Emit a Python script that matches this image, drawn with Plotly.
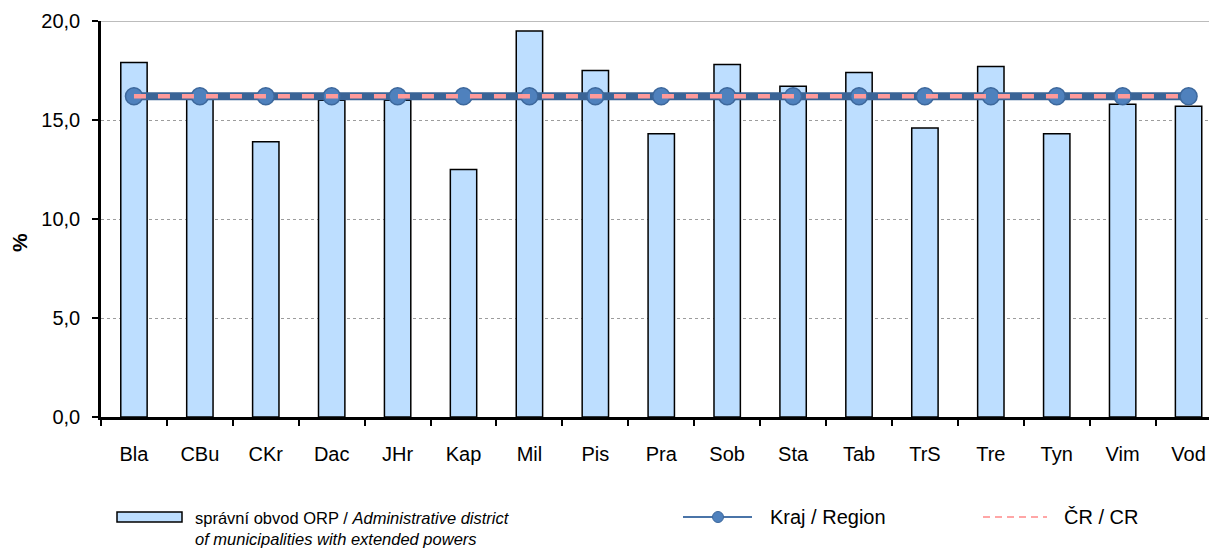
import plotly.graph_objects as go

categories = ["Bla", "CBu", "CKr", "Dac", "JHr", "Kap", "Mil", "Pis", "Pra",
              "Sob", "Sta", "Tab", "TrS", "Tre", "Tyn", "Vim", "Vod"]
orp_values = [17.9, 16.1, 13.9, 16.0, 16.0, 12.5, 19.5, 17.5, 14.3,
              17.8, 16.7, 17.4, 14.6, 17.7, 14.3, 15.8, 15.7]
kraj_values = [16.2] * 17
cr_values = [16.2] * 17

W, H = 1209, 550
L, R, T, B = 101, 1209, 21, 417


def px(x):
    return (x - L) / (R - L)


def py(y):
    return (B - y) / (B - T)


fig = go.Figure()
fig.add_trace(go.Bar(
    x=categories, y=orp_values, width=0.4,
    marker=dict(color="#BDDEFF", line=dict(color="black", width=1.5)),
    name="správní obvod ORP", showlegend=False,
))
fig.add_trace(go.Scatter(
    x=categories, y=kraj_values, mode="lines+markers",
    line=dict(color="#3A6496", width=8),
    marker=dict(size=17, color="#4F81BD", line=dict(color="#3D689C", width=1.5)),
    name="Kraj / Region", showlegend=False,
))
fig.add_trace(go.Scatter(
    x=categories, y=cr_values, mode="lines",
    line=dict(color="#FF9A9A", width=4.5, dash="12px,12px"),
    name="ČR / CR", showlegend=False,
))

font = "Liberation Sans, Arial, sans-serif"
shapes = [
    dict(type="line", xref="paper", yref="y", x0=0, x1=1, y0=20, y1=20,
         line=dict(color="#A6A6A6", width=1.5), layer="below"),
    dict(type="rect", xref="paper", yref="paper", x0=px(117), x1=px(182),
         y0=py(522), y1=py(512), fillcolor="#BDDEFF",
         line=dict(color="black", width=1.5)),
    dict(type="line", xref="paper", yref="paper", x0=px(683), x1=px(752),
         y0=py(517), y1=py(517), line=dict(color="#4A74A8", width=2)),
    dict(type="circle", xref="paper", yref="paper", x0=px(712.5), x1=px(723.5),
         y0=py(522.5), y1=py(511.5), fillcolor="#4F81BD",
         line=dict(color="#3D689C", width=1)),
    dict(type="line", xref="paper", yref="paper", x0=px(983), x1=px(1047),
         y0=py(517), y1=py(517), line=dict(color="#FFA6A6", width=2, dash="7px,5px")),
]

annotations = [
    dict(text="správní obvod ORP / <i>Administrative district</i>", xref="paper", yref="paper",
         x=px(193), y=py(518), xanchor="left", yanchor="middle", showarrow=False,
         font=dict(family=font, size=16.5, color="black")),
    dict(text="<i>of municipalities with extended powers</i>", xref="paper", yref="paper",
         x=px(193), y=py(539), xanchor="left", yanchor="middle", showarrow=False,
         font=dict(family=font, size=16.5, color="black")),
    dict(text="Kraj / Region", xref="paper", yref="paper",
         x=px(768), y=py(517), xanchor="left", yanchor="middle", showarrow=False,
         font=dict(family=font, size=20, color="black")),
    dict(text="ČR / CR", xref="paper", yref="paper",
         x=px(1062), y=py(517), xanchor="left", yanchor="middle", showarrow=False,
         font=dict(family=font, size=20, color="black")),
    dict(text="<b>%</b>", xref="paper", yref="paper", textangle=-90,
         x=px(20), y=py(243), xanchor="center", yanchor="middle", showarrow=False,
         font=dict(family=font, size=21, color="black")),
]

fig.update_layout(
    width=W, height=H,
    margin=dict(l=L, r=W - R, t=T, b=H - B, pad=0),
    paper_bgcolor="white", plot_bgcolor="white",
    separators=", ",
    font=dict(family=font, size=20, color="black"),
    bargap=0.6,
    shapes=shapes, annotations=annotations,
    showlegend=False,
)
fig.update_xaxes(
    type="category", range=[-0.5, 16.31],
    showline=True, linecolor="black", linewidth=2.5,
    ticks="outside", tickson="boundaries", ticklen=6, tickwidth=1.5, tickcolor="black",
    ticklabelstandoff=17, showgrid=False,
    tickfont=dict(family=font, size=20, color="black"),
)
fig.update_yaxes(
    range=[0, 20], dtick=5, tickformat=".1f",
    showline=True, linecolor="black", linewidth=2.5,
    ticks="outside", ticklen=6, tickwidth=1.5, tickcolor="black",
    ticklabelstandoff=8,
    showgrid=True, gridcolor="#9C9C9C", griddash="dot", gridwidth=1.2,
    zeroline=False,
    tickfont=dict(family=font, size=20, color="black"),
)

fig.write_html("out.html", config={"displayModeBar": False},
               post_script="document.body.style.margin='0';document.body.style.overflow='hidden';")
